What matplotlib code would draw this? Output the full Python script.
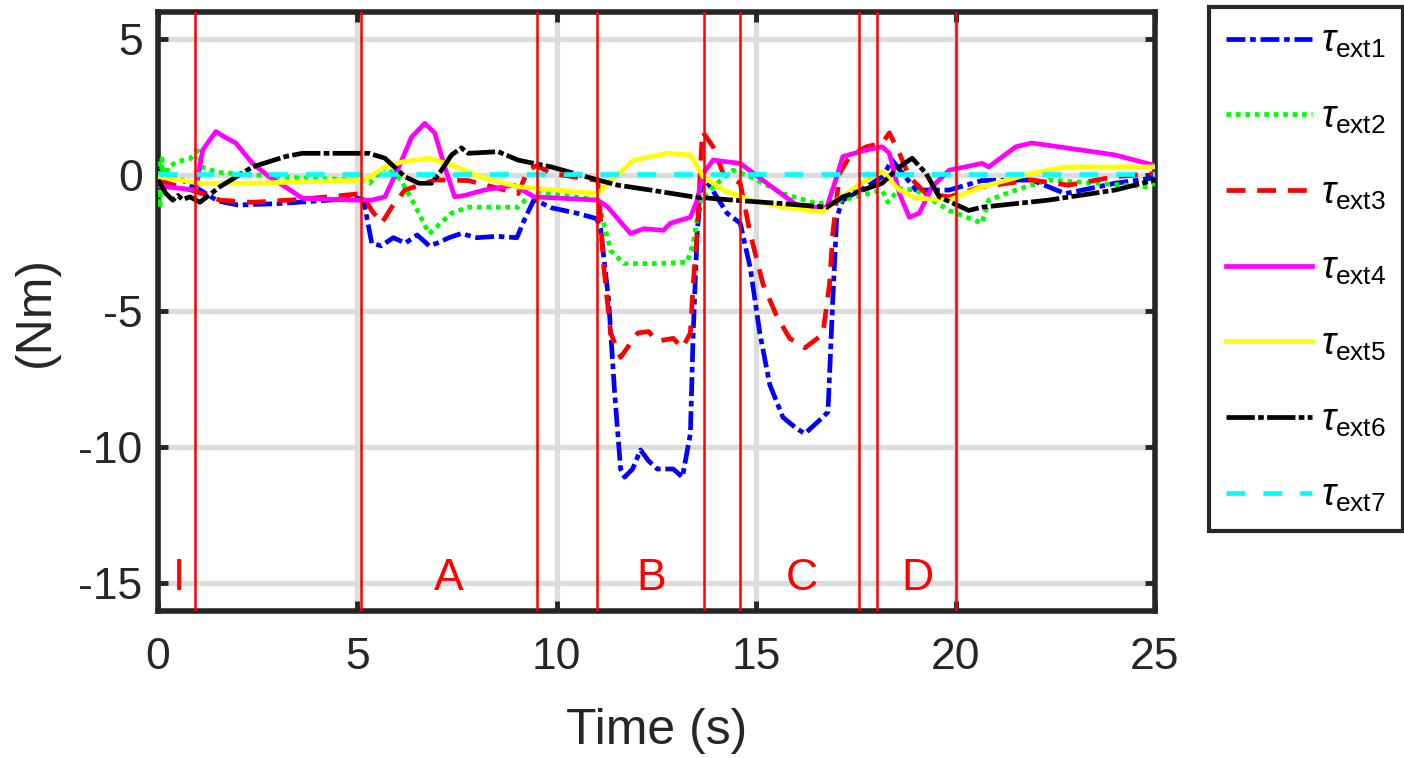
import matplotlib
matplotlib.use('Agg')
import matplotlib.pyplot as plt

plt.rcParams['font.family'] = ['Liberation Sans', 'DejaVu Sans']
plt.rcParams['mathtext.fontset'] = 'custom'
plt.rcParams['mathtext.rm'] = 'Liberation Sans'
plt.rcParams['mathtext.it'] = 'Liberation Sans:italic'

DARK = '#262626'

# ---------------- data ----------------
t1 = [0, 0.5, 1.0, 1.5, 2.0, 3.0, 4.0, 5.0, 5.15, 5.36, 5.6, 5.9, 6.2, 6.5, 6.8, 7.0, 7.3, 7.6, 8.0, 8.5,
      9.0, 9.2, 9.43, 9.86, 10.5, 11.0, 11.1, 11.3, 11.45, 11.6, 11.7, 11.9, 12.1, 12.3, 12.52, 12.92, 13.15,
      13.35, 13.42, 13.52, 13.65, 13.85, 14.27, 14.6, 14.85, 15.09, 15.34, 15.67, 16.0, 16.22, 16.67, 16.8,
      16.92, 17.02, 17.17, 17.8, 18.16, 18.41, 18.6, 19.0, 19.84, 20.66, 21.91, 22.75, 24.0, 25.0]
v1 = [0.0, -0.1, -0.5, -0.95, -1.1, -1.05, -0.95, -0.85, -0.9, -2.5, -2.6, -2.3, -2.5, -2.2, -2.6, -2.5,
      -2.3, -2.15, -2.3, -2.25, -2.3, -1.6, -0.9, -1.2, -1.4, -1.6, -2.0, -4.6, -8.0, -10.8, -11.1, -10.8,
      -10.1, -10.5, -10.8, -10.8, -11.1, -9.5, -5.8, -2.1, -0.06, -0.43, -1.4, -1.77, -3.4, -5.8, -7.7,
      -8.9, -9.3, -9.5, -8.9, -8.7, -4.6, -1.55, -0.92, -0.4, -0.06, 0.55, 0.2, -0.55, -0.55, -0.2, -0.18,
      -0.68, -0.3, -0.1]

t2 = [0, 0.05, 0.1, 0.15, 0.25, 0.5, 0.8, 1.0, 1.1, 1.5, 2.5, 3.5, 4.5, 5.1, 5.3, 5.7, 6.1, 6.4, 6.8, 7.36,
      7.78, 9.03, 9.43, 9.86, 11.03, 11.35, 11.68, 12.5, 13.27, 13.42, 13.6, 14.02, 14.42, 14.85, 15.67,
      16.52, 17.17, 18.16, 18.3, 18.6, 19.01, 19.84, 20.66, 20.83, 21.51, 22.33, 24.83, 25.0]
v2 = [0.5, -1.2, 0.6, -0.5, 0.3, 0.5, 0.6, 0.9, 0.3, 0.1, 0.0, -0.1, -0.15, -0.2, -0.3, 0.3, -0.2, -1.0,
      -2.15, -1.4, -1.18, -1.18, -0.6, -0.68, -0.92, -2.77, -3.25, -3.25, -3.2, -2.5, -0.9, -0.3, 0.18,
      -0.06, -0.68, -1.05, -0.92, -0.55, -1.0, -0.5, -0.55, -1.3, -1.77, -0.92, -0.55, -0.18, -0.43, -0.3]

t3 = [0, 0.95, 1.55, 2.37, 3.5, 5.11, 5.36, 5.61, 5.86, 6.19, 6.94, 7.78, 9.03, 9.28, 9.5, 9.86, 11.03,
      11.18, 11.35, 11.6, 12.03, 12.3, 12.52, 12.92, 13.15, 13.35, 13.42, 13.52, 13.65, 13.92, 14.17, 14.6,
      14.85, 15.17, 15.52, 15.84, 16.22, 16.67, 16.84, 16.92, 17.09, 17.34, 17.76, 18.16, 18.34, 18.59,
      18.84, 19.26, 19.84, 20.66, 21.91, 22.83, 24.0, 25.0]
v3 = [-0.2, -0.6, -0.92, -1.0, -0.9, -0.68, -1.3, -1.77, -1.18, -0.55, -0.18, -0.2, -0.68, 0.2, 0.35,
      0.06, -0.2, -3.4, -5.8, -6.7, -5.8, -5.75, -6.1, -6.0, -6.35, -5.8, -4.0, -2.15, 1.6, 1.04, 0.06,
      -0.3, -2.15, -4.0, -5.2, -6.0, -6.35, -5.85, -4.0, -2.15, 0.06, 0.68, 1.04, 1.18, 1.55, 0.8, -0.06,
      -0.68, -0.8, -0.43, -0.18, -0.37, -0.06, 0.06]

t4 = [0, 0.95, 1.12, 1.45, 1.67, 1.95, 2.37, 2.79, 3.19, 3.62, 4.87, 5.36, 5.69, 6.04, 6.36, 6.69, 6.94,
      7.19, 7.44, 7.68, 8.18, 8.93, 9.43, 11.03, 11.28, 11.85, 12.18, 12.67, 12.85, 13.35, 13.52, 13.67,
      13.92, 14.6, 15.27, 16.09, 16.77, 17.02, 17.17, 17.76, 18.16, 18.34, 18.59, 18.84, 19.09, 19.41,
      19.84, 20.66, 20.83, 21.51, 21.91, 23.15, 24.0, 25.0]
v4 = [-0.4, -0.55, 0.92, 1.6, 1.4, 1.18, 0.43, -0.06, -0.43, -0.85, -0.92, -0.92, -0.8, 0.3, 1.4, 1.9,
      1.55, 0.3, -0.8, -0.75, -0.55, -0.37, -0.8, -0.92, -1.18, -2.15, -1.97, -2.03, -1.77, -1.55, -0.92,
      0.06, 0.55, 0.43, -0.3, -1.18, -1.18, -0.06, 0.68, 0.92, 1.04, 0.8, -0.68, -1.55, -1.4, -0.43, 0.18,
      0.43, 0.3, 1.04, 1.18, 0.92, 0.74, 0.35]

t5 = [0, 1.05, 2.37, 5.19, 5.69, 6.11, 6.79, 7.36, 8.18, 9.03, 11.03, 11.28, 11.93, 12.77, 13.35, 13.67,
      14.17, 14.85, 15.67, 16.67, 17.02, 17.76, 18.16, 18.59, 19.01, 19.84, 20.66, 21.91, 22.75, 25.0]
v5 = [-0.06, -0.3, -0.3, -0.18, 0.3, 0.48, 0.62, 0.37, -0.12, -0.43, -0.68, -0.3, 0.55, 0.8, 0.74, -0.06,
      -0.55, -0.92, -1.18, -1.36, -0.92, -0.18, 0.12, -0.55, -0.85, -0.92, -0.43, 0.06, 0.3, 0.3]

t6 = [0, 0.2, 0.37, 0.5, 0.62, 0.8, 1.05, 1.55, 2.37, 3.19, 3.62, 5.29, 5.69, 6.19, 6.54, 6.86, 7.11, 7.36,
      7.61, 7.78, 8.53, 9.03, 9.86, 11.03, 11.53, 12.35, 13.42, 14.42, 15.67, 16.77, 17.17, 18.16, 18.59,
      18.91, 19.26, 19.59, 20.33, 20.66, 22.33, 24.0, 25.0]
v6 = [-0.18, -0.68, -0.92, -0.75, -0.9, -0.8, -1.0, -0.43, 0.3, 0.68, 0.8, 0.8, 0.62, -0.06, -0.3, -0.3,
      0.18, 0.74, 1.0, 0.8, 0.86, 0.55, 0.3, -0.18, -0.37, -0.55, -0.8, -0.92, -1.05, -1.18, -0.8, -0.3,
      0.3, 0.62, 0.06, -0.8, -1.3, -1.18, -0.92, -0.55, -0.18]

t7 = [0, 25.0]
v7 = [0.05, 0.05]

series_t = [t1, t2, t3, t4, t5, t6, t7]
series_v = [v1, v2, v3, v4, v5, v6, v7]
labels = [r'$\tau_{\mathrm{ext1}}$', r'$\tau_{\mathrm{ext2}}$', r'$\tau_{\mathrm{ext3}}$',
          r'$\tau_{\mathrm{ext4}}$', r'$\tau_{\mathrm{ext5}}$', r'$\tau_{\mathrm{ext6}}$',
          r'$\tau_{\mathrm{ext7}}$']
colors = ['#0000ff', '#00ff00', '#ff0000', '#ff00ff', '#ffff00', '#000000', '#00ffff']
dashes = [(0, (4, 1, 1.2, 1)), (0, (1, 1)), (0, (4, 2.5)), '-', '-', (0, (6, 0.7, 1.2, 0.7)),
          (0, (4, 3.8))]

phase_lines = [0.93, 5.1, 9.5, 11.0, 13.7, 14.6, 17.58, 18.04, 20.0]
phase_labels = ['I', 'A', 'B', 'C', 'D']
phase_label_x = [0.53, 7.29, 12.36, 16.14, 19.05]

xticks = [0, 5, 10, 15, 20, 25]
yticks = [-15, -10, -5, 0, 5]

# ---------------- figure ----------------
fig = plt.figure(figsize=(14.04, 7.58), dpi=100)
ax = fig.add_axes([158 / 1404, 1 - 610.5 / 758, 997 / 1404, 598.7 / 758])

lines = []
for t, v, c, ls, lab in zip(series_t, series_v, colors, dashes, labels):
    ln, = ax.plot(t, v, color=c, linestyle=ls, linewidth=3.4, label=lab, zorder=3)
    lines.append(ln)

for x in phase_lines:
    ax.axvline(x, color='#ff0000', linewidth=1.8, zorder=5)
for x, s in zip(phase_label_x, phase_labels):
    ax.text(x, -15.25, s, color='#ff0000', fontsize=32, ha='center', va='baseline', zorder=6)

ax.set_xlim(0, 25)
ax.set_ylim(-16, 6)
ax.set_xticks(xticks)
ax.set_yticks(yticks)
ax.set_xticklabels([str(x) for x in xticks])
ax.set_yticklabels([str(y) for y in yticks])
ax.grid(True, color='#dcdcdc', linewidth=3.8, zorder=0)
ax.set_axisbelow(True)
for sp in ax.spines.values():
    sp.set_linewidth(4)
    sp.set_color(DARK)
ax.tick_params(direction='in', length=7, width=3.5, color=DARK, labelcolor=DARK,
               labelsize=32, top=True, right=True)
ax.tick_params(axis='x', pad=19)
ax.tick_params(axis='y', pad=11)
ax.set_xlabel('Time (s)', fontsize=36, color=DARK, labelpad=22)
ax.set_ylabel('(Nm)', fontsize=36, color=DARK, labelpad=14)

leg = fig.legend(handles=lines, loc='upper right', bbox_to_anchor=(1403 / 1404, 1 - 7 / 758),
                 bbox_transform=fig.transFigure, fontsize=27, handlelength=2.3, handletextpad=0.25,
                 labelspacing=1.05, borderpad=0.45, borderaxespad=0, fancybox=False, framealpha=1)
leg.get_frame().set_linewidth(3)
leg.get_frame().set_edgecolor(DARK)

fig.savefig('out.png', dpi=100)
